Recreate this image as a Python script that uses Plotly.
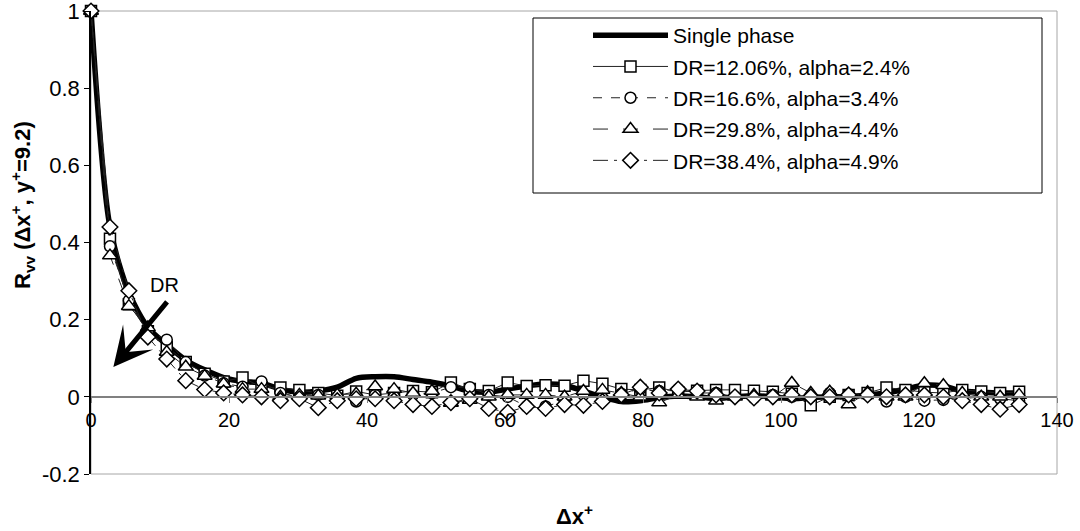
import plotly.graph_objects as go

# ---------------- data ----------------
dx = [0, 2.75, 5.49, 8.24, 10.98, 13.73, 16.47, 19.22, 21.96, 24.71,
      27.45, 30.2, 32.94, 35.69, 38.43, 41.18, 43.92, 46.67, 49.41, 52.16,
      54.9, 57.65, 60.39, 63.14, 65.88, 68.63, 71.37, 74.12, 76.86, 79.61,
      82.35, 85.1, 87.84, 90.59, 93.33, 96.08, 98.82, 101.57, 104.31, 107.06,
      109.8, 112.55, 115.29, 118.04, 120.78, 123.53, 126.27, 129.02, 131.76, 134.51]

single_phase = [1.0, 0.44, 0.27, 0.18, 0.135, 0.095, 0.07, 0.05, 0.04, 0.036,
                0.02, 0.012, 0.015, 0.025, 0.048, 0.052, 0.052, 0.045, 0.038, 0.028,
                0.015, 0.012, 0.02, 0.028, 0.033, 0.03, 0.015, 0.0, -0.012, -0.01,
                -0.002, 0.002, 0.0, -0.004, 0.0, 0.003, 0.0, -0.004, -0.002, 0.0,
                0.0, 0.005, 0.01, 0.02, 0.03, 0.028, 0.015, 0.012, 0.01, 0.01]

dr12 = [1.0, 0.41, 0.24, 0.17, 0.13, 0.09, 0.06, 0.04, 0.05, 0.025,
        0.024, 0.018, 0.01, 0.003, 0.014, 0.005, 0.01, 0.015, 0.012, 0.037,
        0.02, 0.015, 0.037, 0.028, 0.03, 0.029, 0.042, 0.034, 0.02, 0.018,
        0.024, 0.012, 0.016, 0.018, 0.018, 0.016, 0.013, 0.008, -0.022, 0.0,
        0.005, 0.01, 0.024, 0.018, 0.012, 0.01, 0.018, 0.014, 0.01, 0.013]

dr16 = [1.0, 0.39, 0.25, 0.17, 0.148, 0.09, 0.055, 0.035, 0.026, 0.04,
        0.01, 0.0, 0.005, 0.0, -0.012, 0.005, 0.0, 0.005, 0.01, 0.025,
        0.025, 0.005, 0.0, -0.025, -0.025, -0.01, 0.005, -0.003, 0.008, 0.02,
        0.015, 0.02, 0.01, 0.01, 0.0, -0.003, 0.005, 0.0, 0.0, 0.01,
        0.007, 0.005, -0.012, 0.0, -0.01, -0.008, -0.005, 0.0, -0.005, -0.01]

dr29 = [1.0, 0.366, 0.235, 0.18, 0.116, 0.078, 0.054, 0.034, 0.02, 0.02,
        0.0, 0.005, 0.003, 0.005, 0.008, 0.027, 0.02, 0.01, 0.015, -0.016,
        -0.008, 0.0, 0.005, 0.005, 0.005, 0.0, 0.015, 0.018, 0.01, 0.0,
        -0.015, 0.005, 0.0, -0.01, 0.0, 0.005, 0.0, 0.036, 0.01, 0.013,
        -0.02, 0.012, 0.0, 0.0, 0.035, 0.03, 0.01, 0.0, 0.0, 0.005]

dr38 = [1.0, 0.44, 0.275, 0.155, 0.098, 0.042, 0.019, 0.01, 0.005, 0.0,
        -0.01, -0.005, -0.028, -0.01, -0.005, -0.005, -0.01, -0.02, -0.025, -0.015,
        -0.005, -0.03, -0.04, -0.025, -0.03, -0.02, -0.022, -0.012, 0.005, 0.025,
        0.01, 0.02, 0.015, 0.005, 0.0, -0.003, 0.0, 0.005, 0.0, 0.0,
        0.005, 0.005, 0.0, 0.005, 0.005, 0.0, -0.01, -0.02, -0.032, -0.02]

names = ["Single phase", "DR=12.06%, alpha=2.4%", "DR=16.6%, alpha=3.4%",
         "DR=29.8%, alpha=4.4%", "DR=38.4%, alpha=4.9%"]

x_ticks = [0, 20, 40, 60, 80, 100, 120, 140]
y_ticks = [-0.2, 0, 0.2, 0.4, 0.6, 0.8, 1]
y_ticktext = ["-0.2", "0", "0.2", "0.4", "0.6", "0.8", "1"]

# ---------------- figure ----------------
FONT = "Liberation Sans, Arial, sans-serif"
W, H = 1080, 531
ML, MR, MT, MB = 91, 23, 11, 57
PW, PH = W - ML - MR, H - MT - MB


def px2paper_x(px):
    return (px - ML) / PW


def px2paper_y(py):
    return (H - MB - py) / PH


fig = go.Figure()

fig.add_trace(go.Scatter(
    x=dx, y=single_phase, name=names[0], mode="lines",
    line=dict(color="black", width=5.5, shape="spline", smoothing=0.8),
    legendgroup="g0", cliponaxis=False))

series = [
    (dr12, names[1], "square", 11, "solid"),
    (dr16, names[2], "circle", 11, "dash"),
    (dr29, names[3], "triangle-up", 13, "longdash"),
    (dr38, names[4], "diamond", 12, "longdashdot"),
]
for k, (vals, nm, sym, sz, dash) in enumerate(series):
    fig.add_trace(go.Scatter(
        x=dx, y=vals, name=nm, mode="lines+markers",
        line=dict(color="#222222", width=1, dash=dash),
        marker=dict(symbol=sym, size=sz, color="white",
                    line=dict(color="black", width=1.5)),
        legendgroup=f"g{k+1}", cliponaxis=False))

# legend box (drawn as a shape)
fig.add_shape(type="rect", xref="paper", yref="paper",
              x0=px2paper_x(533), x1=px2paper_x(1042),
              y0=px2paper_y(193), y1=px2paper_y(18),
              line=dict(color="black", width=1), fillcolor="white",
              layer="above")

# plot-area border
fig.add_shape(type="rect", xref="paper", yref="paper", x0=0, x1=1, y0=0, y1=1,
              line=dict(color="#a6a6a6", width=1), layer="below")

# DR arrow
fig.add_annotation(x=3.24, y=0.077, ax=11.2, ay=0.25, xref="x", yref="y",
                   axref="x", ayref="y", text="", showarrow=True,
                   arrowhead=3, arrowsize=1.3, arrowwidth=5, arrowcolor="black",
                   standoff=0, startstandoff=0)
fig.add_annotation(x=10.7, y=0.29, xref="x", yref="y", text="DR",
                   showarrow=False, font=dict(family=FONT, size=20, color="black"))

# axis titles
fig.add_annotation(x=px2paper_x(22), y=px2paper_y(205), xref="paper", yref="paper",
                   text="<b>R<sub>vv</sub> (Δx<sup>+</sup>, y<sup>+</sup>=9.2)</b>",
                   textangle=-90, showarrow=False, xanchor="center", yanchor="middle",
                   font=dict(family=FONT, size=22, color="black"))
fig.add_annotation(x=0.5, y=px2paper_y(515), xref="paper", yref="paper",
                   text="<b>Δx<sup>+</sup></b>", showarrow=False,
                   xanchor="center", yanchor="middle",
                   font=dict(family=FONT, size=22, color="black"))

fig.update_layout(
    width=W, height=H,
    margin=dict(l=ML, r=MR, t=MT, b=MB, pad=0, autoexpand=False),
    paper_bgcolor="white", plot_bgcolor="white",
    font=dict(family=FONT, size=20, color="black"),
    showlegend=True,
    legend=dict(x=px2paper_x(588), y=px2paper_y(15), xanchor="left", yanchor="top",
                bgcolor="rgba(0,0,0,0)", borderwidth=0,
                font=dict(family=FONT, size=21, color="black"),
                itemwidth=75, traceorder="grouped", tracegroupgap=1),
    xaxis=dict(range=[0, 140], tickvals=x_ticks, showgrid=False, zeroline=False,
               anchor="free", position=0.2 / 1.2, automargin=False,
               showline=True, linecolor="#808080", linewidth=1.5,
               ticks="outside", ticklen=5, tickcolor="#808080",
               ticklabeloverflow="allow",
               tickfont=dict(family=FONT, size=20, color="black")),
    yaxis=dict(range=[-0.2, 1], tickvals=y_ticks, ticktext=y_ticktext,
               showgrid=False, zeroline=False, automargin=False,
               showline=True, linecolor="black", linewidth=1.5,
               ticks="outside", ticklen=5, tickcolor="black",
               ticklabeloverflow="allow",
               tickfont=dict(family=FONT, size=22, color="black")),
)

fig.write_html("out.html")
